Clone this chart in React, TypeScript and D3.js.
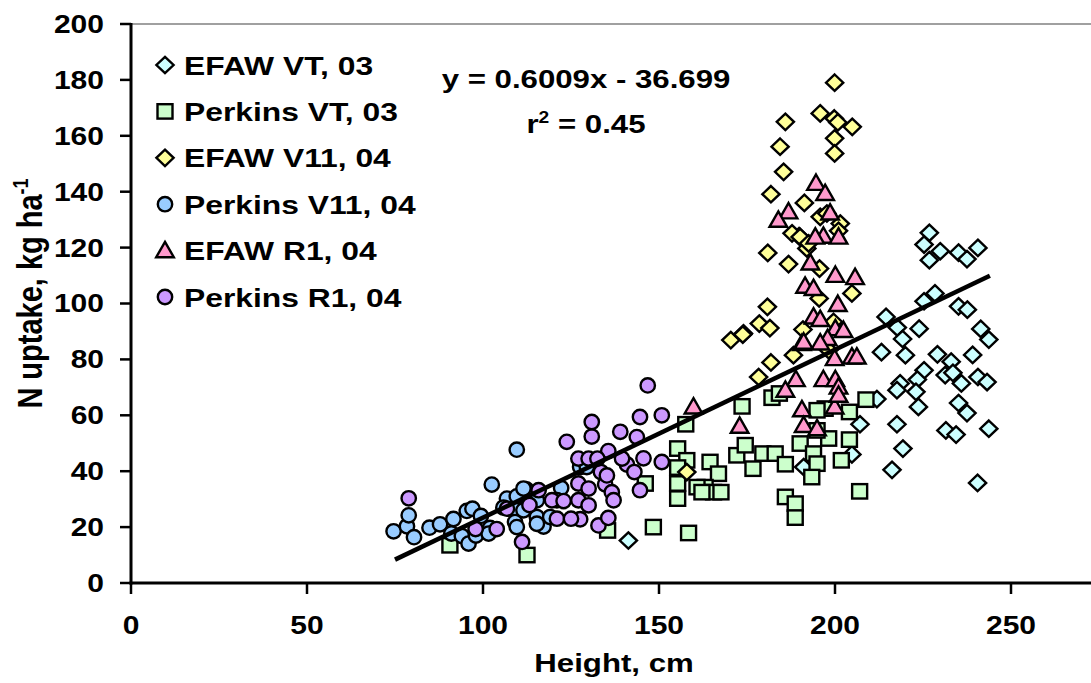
import React from "react";
import * as d3 from "d3";

// ---------- data (Height cm, N uptake kg/ha) ----------
const seriesNames = [
  "EFAW VT, 03",
  "Perkins VT, 03",
  "EFAW V11, 04",
  "Perkins V11, 04",
  "EFAW R1, 04",
  "Perkins R1, 04",
];

const efawVT03: [number, number][] = [
  [226.8, 125.3], [225.3, 121.1], [229.9, 118.7], [226.8, 115.5], [235.1, 118.2], [237.5, 115.9],
  [240.6, 119.9], [228.4, 103.6], [225.3, 100.8], [235.1, 99.0], [237.6, 97.8], [214.5, 95.2],
  [217.7, 91.4], [223.9, 91.0], [219.2, 87.3], [241.4, 90.9], [243.7, 87.1], [213.2, 82.6],
  [220.0, 81.5], [229.1, 81.8], [239.1, 81.6], [233.0, 79.2], [225.3, 76.1], [223.4, 72.8],
  [231.3, 74.4], [233.5, 75.2], [235.9, 71.4], [240.6, 73.7], [243.2, 71.9], [218.5, 71.4],
  [217.6, 69.0], [223.0, 68.4], [223.7, 63.0], [235.1, 64.4], [237.5, 60.8], [211.9, 65.8],
  [207.1, 56.8], [217.6, 56.8], [231.5, 54.6], [234.4, 53.1], [243.7, 55.2], [219.3, 48.1],
  [216.2, 40.5], [240.5, 35.8], [204.8, 46.0], [191.1, 41.5], [141.3, 15.2],
];

const perkinsVT03: [number, number][] = [
  [157.6, 56.8], [173.6, 63.2], [155.3, 48.1], [157.9, 43.9], [155.3, 41.3], [155.3, 35.6],
  [155.3, 30.2], [164.5, 43.3], [166.9, 39.1], [163.1, 34.3], [165.5, 32.5], [167.6, 32.5],
  [160.8, 34.3], [162.2, 32.5], [172.1, 45.7], [174.5, 49.3], [176.7, 40.9], [179.5, 46.3],
  [183.0, 46.3], [185.9, 42.5], [182.1, 66.3], [184.2, 67.8], [190.1, 49.9], [193.9, 46.3],
  [194.9, 42.7], [193.4, 37.9], [185.9, 30.8], [188.7, 28.4], [188.7, 23.4], [197.2, 62.4],
  [194.9, 61.8], [198.2, 51.7], [201.8, 43.9], [204.1, 51.3], [204.1, 61.2], [208.8, 65.6],
  [207.0, 32.8], [148.4, 20.0], [158.4, 17.9], [194.9, 54.6], [146.1, 35.6], [112.5, 10.0],
  [135.4, 18.8], [90.6, 13.5],
];

const efawV1104: [number, number][] = [
  [199.9, 179.0], [195.8, 168.0], [199.8, 166.2], [200.8, 164.8], [204.9, 163.2], [199.9, 159.1],
  [199.9, 153.7], [185.9, 165.0], [184.4, 156.1], [185.4, 147.1], [181.8, 139.1], [191.3, 136.0],
  [195.8, 131.0], [197.7, 132.2], [201.5, 128.6], [189.8, 124.1], [187.8, 125.1], [190.1, 123.8],
  [192.0, 119.7], [180.9, 118.1], [186.8, 114.1], [195.6, 112.5], [204.8, 103.6], [195.5, 101.8],
  [180.8, 98.8], [178.5, 92.8], [181.5, 91.2], [174.0, 89.3], [170.4, 86.9], [173.8, 88.9],
  [190.9, 90.7], [199.6, 93.4], [181.8, 78.9], [178.3, 73.7], [188.2, 81.5], [198.2, 83.3],
  [157.9, 39.7], [192.5, 121.5], [201.0, 126.0],
];

const perkinsV1104: [number, number][] = [
  [74.6, 18.5], [78.4, 20.3], [78.9, 24.2], [80.4, 16.4], [84.8, 19.8], [87.8, 21.0],
  [91.6, 22.9], [91.0, 17.7], [95.4, 25.8], [97.0, 26.6], [99.4, 24.0], [94.0, 16.8],
  [95.9, 14.1], [98.0, 17.0], [102.0, 19.7], [101.6, 17.7], [102.5, 35.2], [109.6, 47.7],
  [106.8, 30.2], [109.6, 31.0], [112.3, 33.5], [109.6, 26.0], [105.8, 27.0], [109.1, 21.8],
  [115.3, 23.6], [117.2, 20.2], [119.1, 23.6], [122.2, 34.0], [115.3, 29.6], [121.0, 29.6],
  [127.6, 41.5], [111.5, 26.0], [109.6, 20.0], [111.5, 33.8], [129.5, 41.5], [115.3, 21.2],
];

const efawR104: [number, number][] = [
  [194.6, 143.0], [197.2, 139.4], [186.8, 132.8], [183.9, 129.8], [198.6, 132.4], [196.7, 124.1],
  [201.0, 123.8], [194.4, 123.8], [193.0, 114.5], [200.1, 110.1], [205.7, 109.3], [191.5, 106.2],
  [193.9, 105.4], [200.8, 99.7], [193.9, 95.2], [195.8, 94.3], [200.1, 91.0], [202.4, 90.4],
  [190.6, 85.7], [197.9, 87.5], [195.8, 85.9], [199.9, 80.3], [204.8, 80.9], [206.2, 80.9],
  [188.9, 72.8], [196.7, 72.8], [200.1, 72.8], [201.0, 70.1], [185.9, 69.0], [190.6, 62.0],
  [199.9, 63.0], [159.8, 63.0], [172.9, 56.1], [191.1, 56.4], [194.9, 55.2], [201.0, 67.2],
  [191.1, 86.2],
];

const perkinsR104: [number, number][] = [
  [78.9, 30.3], [97.9, 19.3], [103.9, 19.3], [106.8, 26.6], [113.2, 27.9], [111.1, 14.7],
  [115.8, 33.2], [119.6, 29.6], [121.0, 23.0], [122.9, 29.3], [123.8, 50.5], [127.1, 29.6],
  [127.6, 22.8], [125.0, 23.0], [127.1, 35.6], [127.1, 44.5], [130.0, 44.5], [130.9, 52.4],
  [130.9, 57.6], [130.0, 33.8], [133.5, 39.7], [134.7, 35.3], [135.2, 38.5], [136.6, 32.5],
  [137.1, 29.6], [132.8, 20.6], [135.6, 23.3], [135.6, 47.2], [139.0, 54.1], [140.9, 42.4],
  [143.7, 52.2], [144.6, 59.4], [145.6, 44.6], [143.0, 39.7], [150.8, 60.0], [150.8, 43.3],
  [144.6, 33.2], [139.5, 44.5], [146.8, 70.7], [132.5, 44.5], [130.0, 27.8],
];

const seriesData = [efawVT03, perkinsVT03, efawV1104, perkinsV1104, efawR104, perkinsR104];

const xTicks = [0, 50, 100, 150, 200, 250];
const yTicks = [0, 20, 40, 60, 80, 100, 120, 140, 160, 180, 200];

const trendSlope = 0.6009;
const trendIntercept = -36.699;
const trendXRange = [75, 244];
const rSquared = "0.45";

// ---------- styles ----------
const shapes = ["diamond", "square", "diamond", "circle", "triangle", "circle"];
const fills = ["#CCFFFF", "#CCFFCC", "#FFFF99", "#99CCFF", "#FF99CC", "#CC99FF"];

const W = 1091;
const H = 683;
const FONT = "'Liberation Sans', Arial, sans-serif";
const SX = 1.2; // horizontal stretch of text

function Marker({ shape, fill, x, y }: { shape: string; fill: string; x: number; y: number }) {
  const common = { fill, stroke: "#000", strokeWidth: 2.4, strokeLinejoin: "miter" as const };
  if (shape === "circle") return <circle cx={x} cy={y} r={7.2} {...common} />;
  if (shape === "square") return <rect x={x - 7.5} y={y - 7.2} width={15} height={14.4} {...common} />;
  if (shape === "diamond")
    return <path d={`M${x},${y - 8.2}L${x + 8.6},${y}L${x},${y + 8.2}L${x - 8.6},${y}Z`} {...common} />;
  return <path d={`M${x},${y - 8.8}L${x + 8.8},${y + 6.6}L${x - 8.8},${y + 6.6}Z`} {...common} />;
}

function SText({ x, y, size, anchor = "start", children }: any) {
  return (
    <g transform={`translate(${x},${y}) scale(${SX},1)`}>
      <text x={0} y={0} fontSize={size} fontWeight="bold" fontFamily={FONT} textAnchor={anchor} fill="#000">
        {children}
      </text>
    </g>
  );
}

export default function App() {
  const x = d3.scaleLinear().domain([0, 275]).range([131, 1099]);
  const y = d3.scaleLinear().domain([0, 200]).range([583, 24]);
  const line = d3
    .line<number>()
    .x((d) => x(d))
    .y((d) => y(trendSlope * d + trendIntercept));

  return (
    <svg
      width={W}
      height={H}
      style={{ position: "absolute", left: 0, top: 0, background: "#fff" }}
      xmlns="http://www.w3.org/2000/svg"
    >
      <rect x={0} y={0} width={W} height={H} fill="#fff" />
      {/* plot top border */}
      <line x1={x(0)} x2={W} y1={y(200)} y2={y(200)} stroke="#808080" strokeWidth={1.6} />

      {/* markers */}
      {seriesData.map((data, si) => (
        <g key={si}>
          {data.map((d, i) => (
            <Marker key={i} shape={shapes[si]} fill={fills[si]} x={x(d[0])} y={y(d[1])} />
          ))}
        </g>
      ))}

      {/* trend line */}
      <path d={line(trendXRange) || ""} stroke="#000" strokeWidth={4.5} fill="none" />

      {/* axes */}
      <line x1={x(0)} x2={x(0)} y1={y(200) - 1} y2={y(0) + 1.5} stroke="#000" strokeWidth={3} />
      <line x1={x(0) - 1.5} x2={W} y1={y(0)} y2={y(0)} stroke="#000" strokeWidth={3} />
      {yTicks.map((t) => (
        <g key={"y" + t}>
          <line x1={x(0) - 11} x2={x(0)} y1={y(t)} y2={y(t)} stroke="#000" strokeWidth={2.5} />
          <SText x={104} y={y(t) + 8.9} size={25} anchor="end">
            {t}
          </SText>
        </g>
      ))}
      {xTicks.map((t) => (
        <g key={"x" + t}>
          <line x1={x(t)} x2={x(t)} y1={y(0)} y2={y(0) + 11} stroke="#000" strokeWidth={2.5} />
          <SText x={x(t)} y={634} size={25} anchor="middle">
            {t}
          </SText>
        </g>
      ))}

      {/* axis titles */}
      <SText x={614} y={672} size={26} anchor="middle">
        Height, cm
      </SText>
      <g transform={`translate(42,${(y(0) + y(200)) / 2 - 10}) scale(${SX},1) rotate(-90)`}>
        <text x={0} y={0} fontSize={29} fontWeight="bold" fontFamily={FONT} textAnchor="middle">
          N uptake, kg ha
          <tspan fontSize={18} dy={-12}>
            -1
          </tspan>
        </text>
      </g>

      {/* legend */}
      {seriesNames.map((n, i) => {
        const cy = 65 + i * 46.4;
        return (
          <g key={n}>
            <Marker shape={shapes[i]} fill={fills[i]} x={165} y={cy} />
            <SText x={184} y={cy + 9.5} size={26.5}>
              {n}
            </SText>
          </g>
        );
      })}

      {/* equation */}
      <SText x={586} y={88} size={26} anchor="middle">
        {`y = ${trendSlope}x - ${Math.abs(trendIntercept)}`}
      </SText>
      <SText x={586} y={133} size={26} anchor="middle">
        r<tspan fontSize={16} dy={-10}>2</tspan>
        <tspan dy={10}>{` = ${rSquared}`}</tspan>
      </SText>
    </svg>
  );
}
